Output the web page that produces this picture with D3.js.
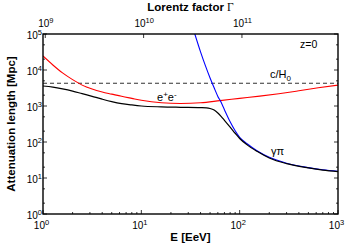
<!DOCTYPE html>
<html>
<head>
<meta charset="utf-8">
<script src="https://cdn.jsdelivr.net/npm/d3@7"></script>
<style>
  body { margin: 0; background: #fff; }
  text { font-family: "Liberation Sans", Arial, sans-serif; fill: #000; }
</style>
</head>
<body>
<svg id="chart" width="360" height="252"></svg>
<script>
// attenuation lengths [Mpc], energies in EeV
const pairEnergy = [1, 1.26, 1.58, 2, 2.5, 3.16, 4, 5, 6.3, 8, 10, 16, 25, 40, 63, 100, 160, 250, 400, 630, 1000]
const pairLength = [24500, 13800, 8300, 5400, 3800, 2950, 2450, 2140, 1860, 1630, 1445, 1230, 1175, 1230, 1410, 1630, 1880, 2200, 2650, 3200, 3800]

const pionEnergy = [30, 35, 40, 45, 50, 55, 60, 64, 70, 80, 90, 100, 120, 150, 200, 300, 500, 700, 1000]
const pionLength = [400000, 100000, 32000, 12800, 6000, 3200, 1850, 1350, 790, 365, 205, 135, 88, 57, 37.5, 25.8, 19.4, 16.9, 15.3]

const totalEnergy = [1, 1.26, 1.58, 2, 2.5, 3.16, 4, 5, 6.3, 8, 10, 16, 25, 40, 46, 50, 55, 60, 65, 70, 80, 90, 100, 120, 150, 200, 300, 500, 700, 1000]
const totalLength = [3600, 3350, 3000, 2600, 2200, 1850, 1550, 1330, 1170, 1070, 1000, 945, 920, 900, 885, 850, 770, 640, 510, 400, 260, 175, 125, 82, 55, 36, 25, 19, 16.5, 15]

const hubbleLength = 4280  // c/H0

const xMajor = [1, 10, 100, 1000]
const yMajor = [1, 10, 100, 1000, 10000, 100000]
const gammaMajor = [1e9, 1e10, 1e11]
const gammaPerEeV = 9.48e8

const svg = d3.select('#chart')
const plotL = 43, plotR = 338, plotT = 34, plotB = 214

const x = d3.scaleLog().domain([1, 1000]).range([plotL, plotR])
const y = d3.scaleLog().domain([1, 1e5]).range([plotB, plotT])
const xGamma = d3.scaleLog().domain([gammaPerEeV, gammaPerEeV * 1000]).range([plotL, plotR])

// minor ticks: 2..9 on energy, 2 and 5 on length
const xMinor = []
xMajor.slice(0, 3).forEach(d => d3.range(2, 10).forEach(k => xMinor.push(d * k)))
const yMinor = []
yMajor.slice(0, 5).forEach(d => { yMinor.push(d * 2); yMinor.push(d * 5) })

function expLabel (sel, exp) {
  sel.append('tspan').text('10')
  sel.append('tspan').attr('dy', -4).attr('font-size', 7.5).text(exp)
}

/* TICKS (pointing inward) */

  const ticks = svg.append('g').attr('stroke', '#000').attr('stroke-width', 0.8)

  xMajor.forEach(d => {
    ticks.append('line').attr('x1', x(d)).attr('x2', x(d)).attr('y1', plotB).attr('y2', plotB - 4)
  })
  xMinor.forEach(d => {
    ticks.append('line').attr('x1', x(d)).attr('x2', x(d)).attr('y1', plotB).attr('y2', plotB - 2)
  })
  gammaMajor.forEach(d => {
    ticks.append('line').attr('x1', xGamma(d)).attr('x2', xGamma(d)).attr('y1', plotT).attr('y2', plotT + 4)
  })
  yMajor.forEach(d => {
    ticks.append('line').attr('x1', plotL).attr('x2', plotL + 4).attr('y1', y(d)).attr('y2', y(d))
    ticks.append('line').attr('x1', plotR).attr('x2', plotR - 4).attr('y1', y(d)).attr('y2', y(d))
  })
  yMinor.forEach(d => {
    ticks.append('line').attr('x1', plotL).attr('x2', plotL + 2).attr('y1', y(d)).attr('y2', y(d))
    ticks.append('line').attr('x1', plotR).attr('x2', plotR - 2).attr('y1', y(d)).attr('y2', y(d))
  })

/* TICK LABELS */

  xMajor.forEach(d => {
    svg.append('text').attr('x', x(d) - 1.5).attr('y', plotB + 15)
      .attr('font-size', 10).attr('text-anchor', 'middle')
      .call(expLabel, Math.round(Math.log10(d)))
  })
  gammaMajor.forEach(d => {
    svg.append('text').attr('x', xGamma(d) + 0.5).attr('y', plotT - 7)
      .attr('font-size', 10).attr('text-anchor', 'middle')
      .call(expLabel, Math.round(Math.log10(d)))
  })
  yMajor.forEach(d => {
    svg.append('text').attr('x', plotL - 1).attr('y', y(d) + 4.5)
      .attr('font-size', 10).attr('text-anchor', 'end')
      .call(expLabel, Math.round(Math.log10(d)))
  })

/* CURVES */

  svg.append('clipPath').attr('id', 'plotClip')
    .append('rect').attr('x', plotL).attr('y', plotT).attr('width', plotR - plotL).attr('height', plotB - plotT)

  const curves = svg.append('g').attr('clip-path', 'url(#plotClip)').attr('fill', 'none')

  const line = d3.line().x(d => x(d[0])).y(d => y(d[1])).curve(d3.curveMonotoneX)

  // c/H0
  curves.append('line')
    .attr('x1', plotL).attr('x2', plotR)
    .attr('y1', y(hubbleLength)).attr('y2', y(hubbleLength))
    .attr('stroke', '#333').attr('stroke-width', 1.1).attr('stroke-dasharray', '4,3')

  curves.append('path')
    .attr('d', line(d3.zip(pairEnergy, pairLength)))
    .attr('stroke', '#ff0000').attr('stroke-width', 1.1)

  curves.append('path')
    .attr('d', line(d3.zip(pionEnergy, pionLength)))
    .attr('stroke', '#0000ff').attr('stroke-width', 1.1)

  curves.append('path')
    .attr('d', line(d3.zip(totalEnergy, totalLength)))
    .attr('stroke', '#000').attr('stroke-width', 1.2)

/* FRAME + ANNOTATIONS */

  svg.append('rect')
    .attr('x', plotL).attr('y', plotT).attr('width', plotR - plotL).attr('height', plotB - plotT)
    .attr('fill', 'none').attr('stroke', '#000').attr('stroke-width', 1.4)

  svg.append('text').attr('x', 300).attr('y', 48).attr('font-size', 10.5).text('z=0')

  const cH = svg.append('text').attr('x', 270).attr('y', 78).attr('font-size', 11)
  cH.append('tspan').text('c/H')
  cH.append('tspan').attr('dy', 3).attr('font-size', 8).text('0')

  const ee = svg.append('text').attr('x', 157).attr('y', 101).attr('font-size', 11)
  ee.append('tspan').text('e')
  ee.append('tspan').attr('dy', -4).attr('font-size', 8).text('+')
  ee.append('tspan').attr('dy', 4).text('e')
  ee.append('tspan').attr('dy', -4).attr('font-size', 8).text('-')

  svg.append('text').attr('x', 271).attr('y', 155).attr('font-size', 11)
    .attr('font-family', '"Liberation Serif", serif').text('γπ')

  svg.append('text').attr('x', (plotL + plotR) / 2).attr('y', 241)
    .attr('font-size', 11.5).attr('font-weight', 'bold').attr('text-anchor', 'middle')
    .text('E [EeV]')

  const lt = svg.append('text').attr('x', (plotL + plotR) / 2).attr('y', 10.5)
    .attr('font-size', 11.5).attr('font-weight', 'bold').attr('text-anchor', 'middle')
  lt.append('tspan').text('Lorentz factor ')
  lt.append('tspan').attr('font-family', '"Liberation Serif", serif').attr('font-weight', 'normal').text('Γ')

  svg.append('text')
    .attr('transform', `translate(15,${(plotT + plotB) / 2}) rotate(-90)`)
    .attr('font-size', 11.5).attr('font-weight', 'bold').attr('text-anchor', 'middle')
    .text('Attenuation length [Mpc]')
</script>
</body>
</html>
